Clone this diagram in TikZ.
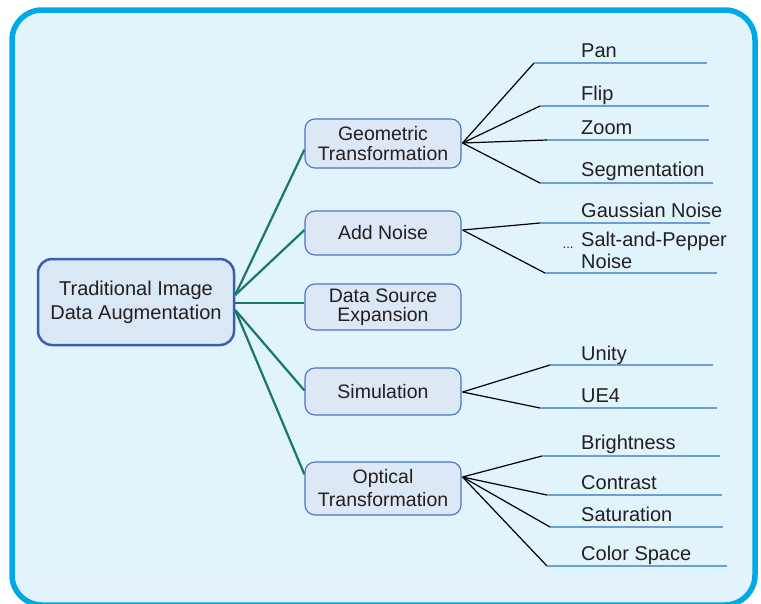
\documentclass[tikz,border=0pt]{standalone}
\usepackage{fontspec}
\setmainfont{Liberation Sans}
\usetikzlibrary{calc}
\definecolor{framecol}{HTML}{00A8E6}
\definecolor{bgcol}{HTML}{E1F3FB}
\definecolor{rootfill}{HTML}{DAE8F5}
\definecolor{rootdraw}{HTML}{3B5FAF}
\definecolor{midfill}{HTML}{DCE8F5}
\definecolor{middraw}{HTML}{4B74C4}
\definecolor{tealline}{HTML}{17776F}
\definecolor{ulcol}{HTML}{6A9FD4}
\definecolor{txt}{HTML}{231F20}
\begin{document}
\begin{tikzpicture}[x=1pt,y=-1pt,
  rootbox/.style={draw=rootdraw, fill=rootfill, line width=2.5pt, rounded corners=14pt,
    minimum width=196pt, minimum height=86pt, align=center, inner sep=0pt, text=txt,
    font=\fontsize{20}{24}\selectfont},
  midbox/.style={draw=middraw, fill=midfill, line width=1.1pt, rounded corners=10pt,
    minimum width=156pt, align=center, inner sep=0pt, text=txt},
  leaf/.style={anchor=base west, inner sep=0pt, text=txt, font=\fontsize{20}{24}\selectfont},
  branch/.style={draw=tealline, line width=2.2pt},
  twig/.style={draw=black, line width=1.2pt},
  under/.style={draw=ulcol, line width=1.3pt}
]
\useasboundingbox (0,0) rectangle (761,603);
\fill[white] (0,0) rectangle (761,603);
\clip (0,0) rectangle (761,603);
\draw[draw=framecol, fill=bgcol, line width=5.5pt, rounded corners=30pt] (12,10) rectangle (755,605);

% root
\node[rootbox] (root) at (136,302) {Traditional Image\\Data Augmentation};

% mid nodes
\node[midbox, minimum height=49pt, font=\fontsize{19.5}{19.5}\selectfont] (geo) at (383,143.5) {Geometric\\Transformation};
\node[midbox, minimum height=44pt, font=\fontsize{19.5}{20}\selectfont] (noise) at (383,233) {Add Noise};
\node[midbox, minimum height=46pt, font=\fontsize{19.5}{19}\selectfont] (data) at (383,307) {Data Source\\Expansion};
\node[midbox, minimum height=47pt, font=\fontsize{19.5}{20}\selectfont] (sim) at (383,391.5) {Simulation};
\node[midbox, minimum height=53pt, font=\fontsize{19.5}{23}\selectfont] (opt) at (383,488.5) {Optical\\Transformation};

% branch anchor points
\coordinate (r1) at ($(root.east)+(0,-7)$);
\coordinate (r2) at ($(root.east)+(0,1)$);
\coordinate (r3) at ($(root.east)+(0,8)$);
\draw[branch] (r1) -- ($(geo.west)+(0,6)$);
\draw[branch] (r1) -- ($(noise.west)+(0,-3)$);
\draw[branch] (r2) -- ($(data.west)+(0,-4)$);
\draw[branch] (r3) -- ($(sim.west)+(0,-1)$);
\draw[branch] (r3) -- ($(opt.west)+(0,-14)$);

% fan points
\coordinate (gf) at ($(geo.east)+(1,-0.5)$);
\coordinate (nf) at ($(noise.east)+(1,-3)$);
\coordinate (sf) at ($(sim.east)+(1,0.5)$);
\coordinate (of) at ($(opt.east)+(1,-11.5)$);

% Geometric leaves
\coordinate (pan-s) at (534,63);  \coordinate (pan-e) at (707,63);
\coordinate (flip-s) at (540,106); \coordinate (flip-e) at (709,106);
\coordinate (zoom-s) at (547,140); \coordinate (zoom-e) at (709,140);
\coordinate (seg-s) at (540,183); \coordinate (seg-e) at (713,183);
\node[leaf] (pan) at (581,57) {Pan};
\node[leaf] (flip) at (581,100) {Flip};
\node[leaf] (zoom) at (581,134) {Zoom};
\node[leaf] (seg) at (581,176.5) {Segmentation};
\foreach \l in {pan,flip,zoom,seg}{
  \draw[twig] (gf) -- (\l-s);
  \draw[under] (\l-s) -- (\l-e);
}

% Noise leaves
\coordinate (gau-s) at (540,223); \coordinate (gau-e) at (710,223);
\coordinate (salt-s) at (545,273); \coordinate (salt-e) at (717,273);
\node[leaf] (gau) at (581,217) {Gaussian Noise};
\node[leaf] (salt) at (581,246) {Salt-and-Pepper};
\node[leaf] (salt2) at (581,268.5) {Noise};
\node[anchor=base west, inner sep=0pt, text=txt, font=\fontsize{13}{14}\selectfont] (dots) at (562.5,248) {...};
\foreach \l in {gau,salt}{
  \draw[twig] (nf) -- (\l-s);
  \draw[under] (\l-s) -- (\l-e);
}

% Simulation leaves
\coordinate (uni-s) at (550,365); \coordinate (uni-e) at (713,365);
\coordinate (ue-s) at (540,408); \coordinate (ue-e) at (717,408);
\node[leaf] (uni) at (581,360.5) {Unity};
\node[leaf] (ue) at (581,402) {UE4};
\foreach \l in {uni,ue}{
  \draw[twig] (sf) -- (\l-s);
  \draw[under] (\l-s) -- (\l-e);
}

% Optical leaves
\coordinate (bri-s) at (542,456); \coordinate (bri-e) at (720,456);
\coordinate (con-s) at (547,495); \coordinate (con-e) at (722,495);
\coordinate (sat-s) at (550,527); \coordinate (sat-e) at (723,527);
\coordinate (col-s) at (547,566); \coordinate (col-e) at (727,566);
\node[leaf] (bri) at (581,449.5) {Brightness};
\node[leaf] (con) at (581,489) {Contrast};
\node[leaf] (sat) at (581,521) {Saturation};
\node[leaf] (col) at (581,560) {Color Space};
\foreach \l in {bri,con,sat,col}{
  \draw[twig] (of) -- (\l-s);
  \draw[under] (\l-s) -- (\l-e);
}
\end{tikzpicture}
\end{document}
